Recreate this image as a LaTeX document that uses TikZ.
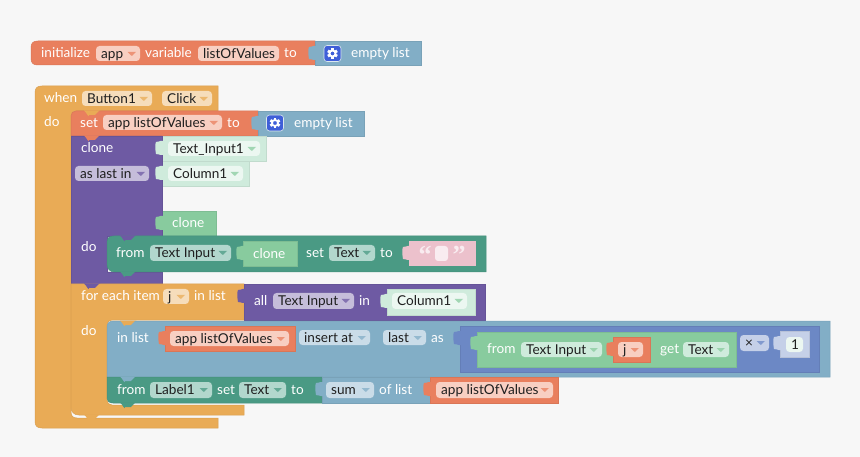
\documentclass[tikz,border=0pt]{standalone}
\usepackage{fontspec}
\setmainfont{Lato}
\newfontfamily\qf{Liberation Serif}
\definecolor{bgc}{HTML}{F7F7F7}
\definecolor{org}{HTML}{E97F5E}
\definecolor{orgp}{HTML}{F8CFC2}
\definecolor{yel}{HTML}{E9AB56}
\definecolor{yelp}{HTML}{F6DDBB}
\definecolor{blu}{HTML}{82AEC6}
\definecolor{blup}{HTML}{CADCE8}
\definecolor{pur}{HTML}{6E5AA3}
\definecolor{purp}{HTML}{C5BDDA}
\definecolor{tea}{HTML}{4A9A84}
\definecolor{teap}{HTML}{B2D7CD}
\definecolor{lgr}{HTML}{CFEBDC}
\definecolor{lgrp}{HTML}{ECF7F1}
\definecolor{gre}{HTML}{88CB9E}
\definecolor{dbl}{HTML}{6C88C5}
\definecolor{dblp}{HTML}{C5D0E8}
\definecolor{pnk}{HTML}{ECC1CC}
\definecolor{ico}{HTML}{3F5FD8}
\tikzset{
  wt/.style={anchor=west,inner sep=0pt,text=white,text height=9.5pt,text depth=3pt,yshift=-1.5pt,font=\fontsize{13.6}{14}\selectfont},
  dk/.style={wt,text=black!88},
  edge/.style={draw=#1!93!black,line width=.5pt},
}
% block: x1 y1 x2 y2 colour
\newcommand\blk[5]{\path[fill=#5,edge=#5] (#1,#2) rectangle (#3,#4);}
% value tab on left edge x, centre y
\newcommand\vtab[3]{\begin{scope}[shift={(#1,#2)}]
  \fill[#3] (1,-7) -- (-1.5,-7) .. controls (-1.5,-5.5) and (-4,-7.5) .. (-6,-6) .. controls (-7.5,-3) and (-6.5,3) .. (-6,6) .. controls (-4,7.5) and (-1.5,5.5) .. (-1.5,7) -- (1,7) -- cycle;
\end{scope}}
% statement nub under edge: x y colour
\newcommand\nub[3]{\fill[#3] (#1,#2) ++(-8,-.5) .. controls +(2,1) and +(0,4) .. ++(5,4.5) -- ++(6,0) .. controls +(0,-.5) and +(3,-3.5) .. ++(5,-4.5) -- cycle;}
% dent above edge
\newcommand\dent[3]{\nub{#1}{#2}{#3}}
% pill: name x1 y1 x2 y2 fill text
\newcommand\pill[7]{\fill[#6,rounded corners=3.5pt] (#2,#3) rectangle (#4,#5);
  \path (#2,#3) -- (#2,#5) node[midway,dk,xshift=5pt] (#1) {#7};}
% pill with arrow: name x1 y1 x2 y2 fill text arrowcolour
\newcommand\pilla[8]{\pill{#1}{#2}{#3}{#4}{#5}{#6}{#7}
  \begin{scope}[shift={(#4,#3)}]\fill[#8!75!#6] (-12.5,6) -- (-4,6) -- (-8.2,10) -- cycle;\end{scope}}
\newcommand\tx[4]{\node[wt] (#1) at (#2,#3) {#4};}
\newcommand\gear[2]{\begin{scope}[shift={(#1,#2)}]
  \fill[ico,rounded corners=3pt] (-8.5,-8) rectangle (8.5,8);
  \draw[white!70!blu,line width=.6pt,rounded corners=3pt] (-8.5,-8) rectangle (8.5,8);
  \draw[white,line width=1.8pt] (0,0) circle (3pt);
  \foreach \a in {0,60,...,300}{\fill[white,rotate=\a] (-1.4,3) rectangle (1.4,5.3);}
\end{scope}}
\begin{document}
\begin{tikzpicture}[x=1pt,y=-1pt]
\useasboundingbox (0,0) rectangle (860,457);
\fill[bgc] (0,0) rectangle (860,457);
% ---- initialize row
\path[fill=org,edge=org] (315,41) -- (38,41) .. controls (33,41) and (31,43) .. (31,48) -- (31,58) .. controls (31,63) and (33,65) .. (38,65) -- (315,65) -- cycle;
\blk{315}{41}{421}{65}{blu}
\vtab{315}{53}{blu}
\tx{a1}{41}{53}{initialize}
\pilla{a2}{96}{46}{140}{61}{orgp}{app}{org}
\tx{a3}{145}{53}{variable}
\pill{a4}{198}{46}{279}{61}{orgp}{listOfValues}
\tx{a5}{284}{53}{to}
\gear{332.5}{53.5}
\tx{a6}{351}{53}{empty list}
% ---- when block
\path[fill=yel,edge=yel] (218,86) -- (42,86) .. controls (37,86) and (35,88) .. (35,93) -- (35,421) .. controls (35,426) and (37,428) .. (42,428) -- (218,428) -- (218,418) -- (77,418) .. controls (73,418) and (71,416) .. (71,412) -- (71,117) .. controls (71,113) and (73,111) .. (77,111) -- (218,111) -- cycle;
\tx{b1}{44}{98}{when}
\pilla{b2}{82}{91}{152}{106}{yelp}{Button1}{yel}
\pilla{b3}{162}{91}{212}{106}{yelp}{Click}{yel}
\tx{b4}{44}{122}{do}
% ---- set
\path[fill=org,edge=org] (258,111) -- (76,111) .. controls (73,111) and (71,113) .. (71,116) -- (71,136) -- (258,136) -- cycle;
\dent{92}{111}{yel}
\blk{258}{111}{364}{136}{blu}
\vtab{258}{123}{blu}
\tx{c1}{80}{123}{set}
\pilla{c2}{103}{115}{222}{130}{orgp}{app listOfValues}{org}
\tx{c3}{227}{123}{to}
\gear{275}{123}
\tx{c4}{294}{123}{empty list}
% ---- clone (purple)
\blk{162}{136}{266}{161}{lgr}
\blk{162}{161}{249}{186}{lgr}
\blk{162}{211}{216}{236}{gre}
\path[fill=pur,edge=pur] (71,136) -- (162,136) -- (162,236) -- (107,236) -- (107,272) -- (162,272) -- (162,284) -- (71,284) -- cycle;
\nub{92}{136}{org}
\vtab{162}{148}{lgr}
\vtab{162}{173}{lgr}
\vtab{162}{223}{gre}
\tx{d1}{81}{148}{clone}
\pilla{d2}{75}{166}{149}{181}{purp}{as last in}{pur}
\pilla{d3}{168}{141}{260}{156}{lgrp}{Text\_Input1}{gre}
\pilla{d4}{168}{166}{243}{181}{lgrp}{Column1}{gre}
\tx{d5}{172}{223}{clone}
\tx{d6}{81}{247}{do}
% ---- from Text Input ... set Text
\path[fill=tea,edge=tea] (486,236) -- (114,236) .. controls (109,236) and (107,238) .. (107,243) -- (107,264) .. controls (107,269) and (110,272) .. (115,272) -- (486,272) -- cycle;
\dent{128}{236}{pur}
\nub{128}{272}{tea}
\blk{243}{241}{297}{266}{gre}
\vtab{243}{253}{gre}
\fill[pnk] (409,241) rectangle (476,266);
\vtab{409}{253}{pnk}
\tx{e1}{116}{253}{from}
\pilla{e2}{150}{245}{231}{261}{teap}{Text Input}{tea}
\tx{e3}{253}{254}{clone}
\tx{e4}{306}{253}{set}
\pilla{e5}{329}{245}{375}{261}{teap}{Text}{tea}
\tx{e6}{380}{253}{to}
\fill[white!70!pnk,rounded corners=3pt] (435,246) rectangle (448,261);
\node[wt,text=white!70!pnk,font=\fontsize{26}{26}\qf\bfseries] (e7) at (418.5,259) {“};
\node[wt,text=white!70!pnk,font=\fontsize{26}{26}\qf\bfseries] (e8) at (452.5,259) {”};
% ---- for each
\path[fill=yel,edge=yel] (244,284) -- (71,284) -- (71,407) .. controls (71,412) and (74,415) .. (79,415) -- (244,415) -- (244,405) -- (112,405) .. controls (109,405) and (107,403) .. (107,400) -- (107,325) .. controls (107,322) and (109,320) .. (112,320) -- (244,320) -- cycle;
\nub{92}{284}{pur}
\nub{92}{415}{yel}
\tx{f1}{81}{296}{for each item}
\pilla{f2}{163}{289}{189}{304}{yelp}{j}{yel}
\tx{f3}{194}{296}{in list}
\tx{f4}{81}{331}{do}
% ---- all
\blk{244}{284}{485}{320}{pur}
\vtab{244}{296}{pur}
\tx{g1}{254}{301}{all}
\pilla{g2}{273}{293}{354}{309}{purp}{Text Input}{pur}
\tx{g3}{359}{301}{in}
\blk{387}{289}{475}{315}{lgr}
\vtab{387}{301}{lgr}
\pilla{g4}{392}{293}{467}{309}{lgrp}{Column1}{gre}
% ---- in list
\path[fill=blu,edge=blu] (830,321) -- (114,321) .. controls (109,321) and (107,323) .. (107,328) -- (107,377) -- (830,377) -- cycle;
\dent{128}{321}{yel}
\blk{165}{326}{295}{351}{org}
\vtab{165}{338}{org}
\tx{h1}{117}{338}{in list}
\pilla{h2}{170}{331}{289}{346}{orgp}{app listOfValues}{org}
\pilla{h3}{299}{330}{370}{345}{blup}{insert at}{blu}
\pilla{h4}{383}{330}{426}{345}{blup}{last}{blu}
\tx{h5}{431}{338}{as}
% nested math block
\blk{460}{326}{819}{372}{dbl}
\vtab{460}{338}{dbl}
\blk{477}{332}{736}{367}{gre}
\vtab{477}{343}{gre}
\tx{i1}{487}{349}{from}
\pilla{i2}{521}{342}{602}{357}{lgr}{Text Input}{gre}
\blk{613}{337}{650}{362}{org}
\vtab{613}{349}{org}
\pilla{i3}{618}{342}{643}{357}{orgp}{j}{org}
\tx{i4}{660}{349}{get}
\pilla{i5}{683}{342}{729}{357}{lgr}{Text}{gre}
\pilla{i6}{740}{335}{769}{351}{dblp}{×}{dbl}
\blk{780}{331}{809}{357}{dblp}
\vtab{780}{343}{dblp}
\pill{i7}{786}{337}{803}{352}{lgrp}{1}
% ---- from Label1
\path[fill=tea,edge=tea] (322,377) -- (107,377) -- (107,397) .. controls (107,401) and (109,403) .. (113,403) -- (322,403) -- cycle;
\dent{128}{377}{blu}
\nub{128}{403}{tea}
\blk{322}{377}{430}{403}{blu}
\vtab{322}{389}{blu}
\blk{430}{377}{558}{403}{org}
\vtab{430}{389}{org}
\tx{j1}{117}{390}{from}
\pilla{j2}{150}{382}{212}{398}{teap}{Label1}{tea}
\tx{j3}{217}{390}{set}
\pilla{j4}{239}{382}{286}{398}{teap}{Text}{tea}
\tx{j5}{291}{390}{to}
\pilla{j6}{326}{382}{374}{398}{blup}{sum}{blu}
\tx{j7}{379}{390}{of list}
\pilla{j8}{436}{382}{553}{398}{orgp}{app listOfValues}{org}
\end{tikzpicture}
\end{document}
